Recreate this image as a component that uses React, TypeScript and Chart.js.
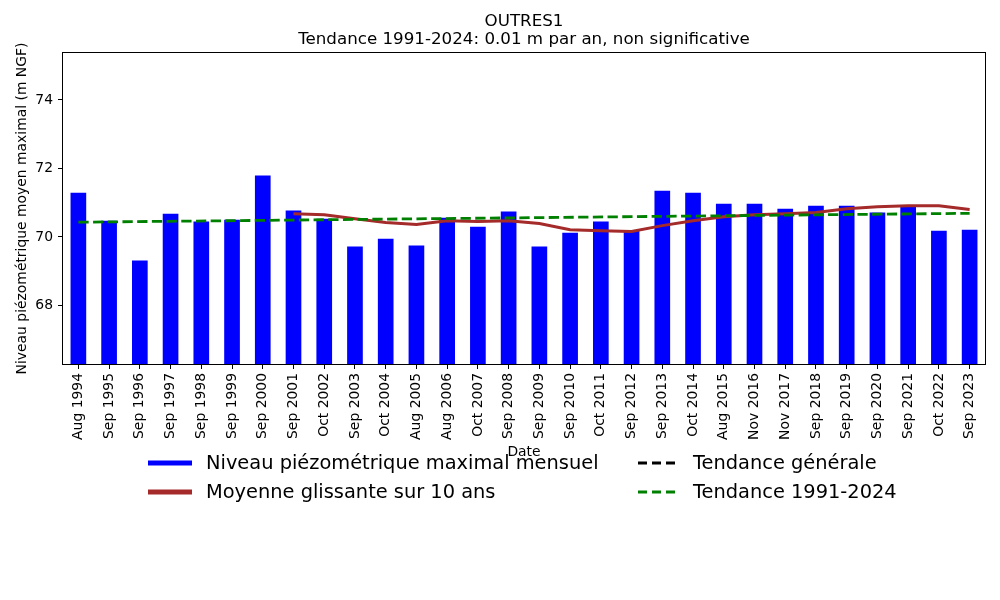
import React, { useEffect, useRef } from "react";
import { Chart, registerables } from "chart.js";

Chart.register(...registerables);

const categories = [
  "Aug 1994", "Sep 1995", "Sep 1996", "Sep 1997", "Sep 1998", "Sep 1999",
  "Sep 2000", "Sep 2001", "Oct 2002", "Sep 2003", "Oct 2004", "Aug 2005",
  "Aug 2006", "Oct 2007", "Sep 2008", "Sep 2009", "Sep 2010", "Oct 2011",
  "Sep 2012", "Sep 2013", "Oct 2014", "Aug 2015", "Nov 2016", "Nov 2017",
  "Sep 2018", "Sep 2019", "Sep 2020", "Sep 2021", "Oct 2022", "Sep 2023",
];

const maxLevels = [
  71.29, 70.47, 69.31, 70.68, 70.45, 70.5, 71.79, 70.77, 70.53, 69.72,
  69.95, 69.75, 70.56, 70.3, 70.74, 69.72, 70.12, 70.45, 70.19, 71.35,
  71.29, 70.97, 70.97, 70.82, 70.91, 70.91, 70.71, 70.9, 70.18, 70.21,
];

const movingAverage = [
  null, null, null, null, null, null, null,
  70.68, 70.65, 70.53, 70.42, 70.36, 70.47, 70.45, 70.47, 70.39, 70.21,
  70.18, 70.16, 70.33, 70.47, 70.59, 70.65, 70.68, 70.71, 70.82, 70.88,
  70.91, 70.91, 70.8,
];

const trendStart = 70.43;
const trendEnd = 70.69;
const trend9124 = categories.map((_, i) =>
  i === 0 ? trendStart : i === categories.length - 1 ? trendEnd : null
);
const trendGeneral = categories.map(() => null);

const yTicks = [68, 70, 72, 74];
const yMin = 66.29;
const yMax = 75.37;

const titleText = "OUTRES1";
const subtitleText = "Tendance 1991-2024: 0.01 m par an, non significative";
const yTitle = "Niveau piézométrique moyen maximal (m NGF)";
const xTitle = "Date";
const legendItems = [
  { label: "Niveau piézométrique maximal mensuel", color: "#0000ff", dash: false },
  { label: "Moyenne glissante sur 10 ans", color: "#a52a2a", dash: false },
  { label: "Tendance générale", color: "#000000", dash: true },
  { label: "Tendance 1991-2024", color: "#008000", dash: true },
];

const FONT = '"DejaVu Sans", sans-serif';

const decorPlugin = {
  id: "decor",
  afterDraw(chart: any) {
    const { ctx, chartArea } = chart;
    const { left, right, top, bottom } = chartArea;
    const cx = (left + right) / 2;
    ctx.save();
    // frame
    ctx.strokeStyle = "#000";
    ctx.lineWidth = 1;
    ctx.strokeRect(left - 0.5, top - 0.5, right - left + 1, bottom - top + 1);
    ctx.fillStyle = "#000";
    ctx.textAlign = "center";
    ctx.textBaseline = "middle";
    ctx.font = `16.7px ${FONT}`;
    ctx.fillText(titleText, cx, 22);
    ctx.fillText(subtitleText, cx, 39.5);
    ctx.font = `13.9px ${FONT}`;
    ctx.fillText(xTitle, cx, 452);
    ctx.save();
    ctx.translate(22, (top + bottom) / 2);
    ctx.rotate(-Math.PI / 2);
    ctx.fillText(yTitle, 0, 0);
    ctx.restore();
    // legend
    const cols = [
      { hx: 148, hw: 44, tx: 206 },
      { hx: 638, hw: 40, tx: 693 },
    ];
    const rows = [463, 492];
    ctx.font = `19.4px ${FONT}`;
    ctx.textAlign = "left";
    legendItems.forEach((it, i) => {
      const c = cols[Math.floor(i / 2)];
      const y = rows[i % 2];
      ctx.strokeStyle = it.color;
      ctx.lineWidth = it.dash ? 3 : 5;
      ctx.setLineDash(it.dash ? [9, 5] : []);
      ctx.beginPath();
      ctx.moveTo(c.hx, y);
      ctx.lineTo(c.hx + c.hw, y);
      ctx.stroke();
      ctx.setLineDash([]);
      ctx.fillStyle = "#000";
      ctx.fillText(it.label, c.tx, y + 1);
    });
    ctx.restore();
  },
};

export default function App() {
  const ref = useRef<HTMLCanvasElement | null>(null);
  useEffect(() => {
    if (!ref.current) return;
    Chart.defaults.color = "#000";
    Chart.defaults.font.family = FONT;
    const chart = new Chart(ref.current, {
      type: "bar",
      data: {
        labels: categories,
        datasets: [
          {
            type: "bar",
            label: legendItems[0].label,
            data: maxLevels,
            backgroundColor: "#0000ff",
            barPercentage: 0.51,
            categoryPercentage: 1,
            order: 3,
          } as any,
          {
            type: "line",
            label: legendItems[1].label,
            data: movingAverage,
            borderColor: "#a52a2a",
            borderWidth: 3,
            pointRadius: 0,
            tension: 0,
            order: 2,
          },
          {
            type: "line",
            label: legendItems[2].label,
            data: trendGeneral,
            borderColor: "#000",
            borderWidth: 2.8,
            borderDash: [10.3, 4.4],
            pointRadius: 0,
            order: 1,
          },
          {
            type: "line",
            label: legendItems[3].label,
            data: trend9124,
            borderColor: "#008000",
            borderWidth: 2.8,
            borderDash: [10.3, 4.4],
            pointRadius: 0,
            spanGaps: true,
            order: 0,
          },
        ],
      },
      options: {
        responsive: false,
        animation: false,
        devicePixelRatio: 1,
        layout: { padding: { top: 53, right: 15, left: 0, bottom: 0 } },
        plugins: {
          legend: { display: false },
          title: { display: false },
          tooltip: { enabled: false },
        },
        scales: {
          x: {
            type: "category",
            offset: true,
            grid: {
              offset: false,
              drawOnChartArea: false,
              drawTicks: true,
              tickLength: 5,
              tickColor: "#000",
              tickWidth: 1,
            },
            border: { display: false },
            ticks: {
              autoSkip: false,
              maxRotation: 90,
              minRotation: 90,
              padding: 4,
              font: { size: 13.9, family: FONT },
              color: "#000",
            },
            afterFit: (scale: any) => {
              scale.height = 236;
            },
          },
          y: {
            type: "linear",
            min: yMin,
            max: yMax,
            grid: {
              drawOnChartArea: false,
              drawTicks: true,
              tickLength: 5,
              tickColor: "#000",
              tickWidth: 1,
            },
            border: { display: false },
            ticks: {
              padding: 5,
              font: { size: 13.9, family: FONT },
              color: "#000",
            },
            afterBuildTicks: (scale: any) => {
              scale.ticks = yTicks.map((v) => ({ value: v }));
            },
            afterFit: (scale: any) => {
              scale.width = 63;
            },
          },
        },
      },
      plugins: [decorPlugin],
    });
    return () => chart.destroy();
  }, []);

  return (
    <div style={{ position: "absolute", left: 0, top: 0, width: 1000, height: 600, background: "#fff" }}>
      <canvas ref={ref} width={1000} height={600} style={{ display: "block" }} />
    </div>
  );
}
